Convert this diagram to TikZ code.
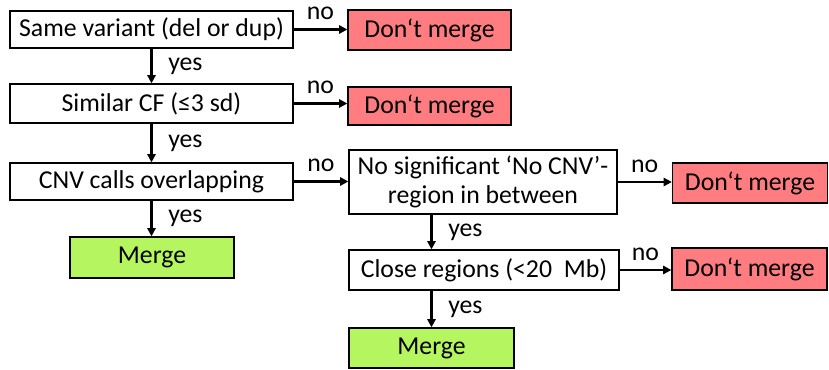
\documentclass[tikz,border=0pt]{standalone}
\usepackage{fontspec}
\setmainfont{Carlito}
\usetikzlibrary{arrows.meta}

\definecolor{nored}{RGB}{255,124,128}
\definecolor{okgreen}{RGB}{180,245,96}

\begin{document}
\begin{tikzpicture}[x=0.03cm,y=-0.03cm,font=\fontsize{22}{25}\selectfont,
    box/.style={draw,line width=1.1pt,inner sep=0pt,align=center},
    stop/.style={box,fill=nored},
    go/.style={box,fill=okgreen},
    flow/.style={line width=2pt,-{Triangle[length=7pt,width=7pt]}}]
  \useasboundingbox (0,0) rectangle (829,370);

  % left column of tests
  \node[box,minimum width=8.49cm,minimum height=1.11cm] (same)    at (151.5,29.5)  {Same variant (del or dup)};
  \node[box,minimum width=8.49cm,minimum height=1.17cm] (cf)      at (151.5,103.5) {Similar CF (≤3 sd)};
  \node[box,minimum width=8.49cm,minimum height=1.11cm] (overlap) at (151.5,181.5) {CNV calls overlapping};
  \node[go,minimum width=4.92cm,minimum height=1.23cm]  (merge1)  at (152,257.5)   {Merge};

  % right column of tests
  \node[box,minimum width=8.04cm,minimum height=1.92cm] (gap)   at (483,182) {No significant ‘No CNV’-\\region in between};
  \node[box,minimum width=8.1cm,minimum height=1.2cm]   (close) at (484,270) {Close regions (<20\ \ Mb)};
  \node[go,minimum width=4.95cm,minimum height=1.2cm]   (merge2) at (431.5,348) {Merge};

  % rejections
  \node[stop,minimum width=4.89cm,minimum height=1.2cm]  (no1) at (429.5,30)  {Don‘t merge};
  \node[stop,minimum width=4.89cm,minimum height=1.14cm] (no2) at (429.5,106) {Don‘t merge};
  \node[stop,minimum width=4.65cm,minimum height=1.2cm]  (no3) at (750,183)   {Don‘t merge};
  \node[stop,minimum width=4.65cm,minimum height=1.26cm] (no4) at (749.5,269) {Don‘t merge};

  % yes branches
  \draw[flow] (same.south) -- node[right=10pt] {yes} (cf.north);
  \draw[flow] (cf.south) -- node[right=10pt] {yes} (overlap.north);
  \draw[flow] (overlap.south) -- node[right=10pt] {yes} (overlap.south |- merge1.north);
  \draw[flow] (gap.south -| merge2) -- node[right=10pt] {yes} (close.north -| merge2);
  \draw[flow] (close.south -| merge2) -- node[right=10pt] {yes} (merge2.north);

  % no branches
  \draw[flow] (same.east) -- node[above=4pt] {no} (same.east -| no1.west);
  \draw[flow] (cf.east) -- node[above=4pt] {no} (cf.east -| no2.west);
  \draw[flow] (overlap.east) -- node[above=4pt] {no} (overlap.east -| gap.west);
  \draw[flow] (gap.east) -- node[above=4pt] {no} (gap.east -| no3.west);
  \draw[flow] (close.east) -- node[above=4pt] {no} (close.east -| no4.west);
\end{tikzpicture}
\end{document}
